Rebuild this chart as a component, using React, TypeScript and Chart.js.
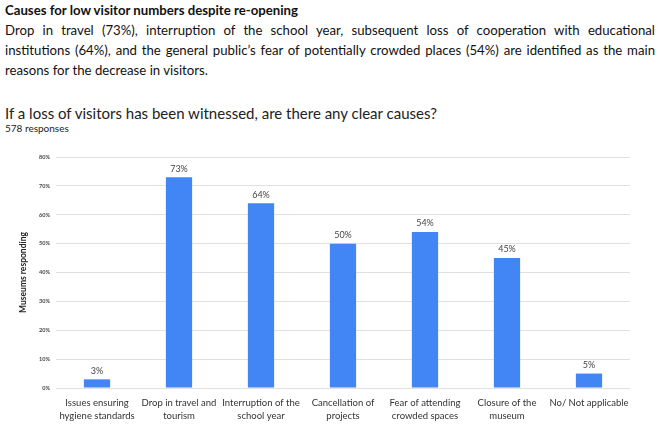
import React, { useEffect, useRef } from "react";
import { Chart, registerables } from "chart.js";

Chart.register(...registerables);

const categories: string[][] = [
  ["Issues ensuring", "hygiene standards"],
  ["Drop in travel and", "tourism"],
  ["Interruption of the", "school year"],
  ["Cancellation of", "projects"],
  ["Fear of attending", "crowded spaces"],
  ["Closure of the", "museum"],
  ["No/ Not applicable"],
];
const values: number[] = [3, 73, 64, 50, 54, 45, 5];
const yTicks: number[] = [0, 10, 20, 30, 40, 50, 60, 70, 80];

const FONT = "Lato, 'Open Sans', sans-serif";

const valueLabels = {
  id: "valueLabels",
  afterDatasetsDraw(chart: any) {
    const ctx = chart.ctx;
    const meta = chart.getDatasetMeta(0);
    ctx.save();
    ctx.font = `9px ${FONT}`;
    ctx.fillStyle = "#444";
    ctx.textAlign = "center";
    ctx.textBaseline = "bottom";
    meta.data.forEach((bar: any, i: number) => {
      ctx.fillText(values[i] + "%", bar.x, bar.y - 4);
    });
    ctx.restore();
  },
};

export default function App() {
  const ref = useRef<HTMLCanvasElement>(null);
  useEffect(() => {
    if (!ref.current) return;
    const chart = new Chart(ref.current, {
      type: "bar",
      data: {
        labels: categories,
        datasets: [
          {
            data: values,
            backgroundColor: "#4285F4",
            barPercentage: 0.32,
            categoryPercentage: 1,
          },
        ],
      },
      options: {
        animation: false,
        responsive: false,
        maintainAspectRatio: false,
        layout: { padding: { top: 17, right: 30, left: 18, bottom: 0 } },
        plugins: { legend: { display: false }, tooltip: { enabled: false } },
        scales: {
          x: {
            grid: { display: false },
            border: { display: false },
            ticks: {
              color: "#333",
              font: { family: FONT, size: 9.5, lineHeight: 1.35 },
              maxRotation: 0,
              autoSkip: false,
              padding: 1,
            },
            afterFit(scale: any) {
              scale.height = 40;
            },
          },
          y: {
            min: 0,
            max: 80,
            afterBuildTicks(scale: any) {
              scale.ticks = yTicks.map((v) => ({ value: v }));
            },
            grid: { color: "#e0e0e0", drawTicks: false },
            border: { display: false },
            ticks: {
              color: "#444",
              font: { family: FONT, size: 5.5, weight: "bold" },
              padding: 6,
              callback: (v: any) => v + "%",
            },
            title: {
              display: true,
              text: "Museums responding",
              color: "#222",
              font: { family: FONT, size: 8.5, weight: "bold" },
              padding: { top: 0, bottom: 8 },
            },
            afterFit(scale: any) {
              scale.width = 38;
            },
          },
        },
      },
      plugins: [valueLabels],
    });
    return () => chart.destroy();
  }, []);

  const para: React.CSSProperties = {
    position: "absolute",
    left: 5,
    width: 650,
    fontSize: 13.2,
    lineHeight: "20px",
    color: "#111",
    whiteSpace: "nowrap",
  };

  return (
    <div
      style={{
        position: "fixed",
        left: 0,
        top: 0,
        width: 660,
        height: 428,
        background: "#fff",
        fontFamily: FONT,
        overflow: "hidden",
      }}
    >
      <div style={{ ...para, top: 0, fontWeight: "bold", fontSize: 13.2 }}>
        Causes for low visitor numbers despite re-opening
      </div>
      <div style={{ ...para, top: 20, textAlign: "justify", textAlignLast: "justify", whiteSpace: "normal" }}>
        Drop in travel (73%), interruption of the school year, subsequent loss of cooperation with educational
      </div>
      <div style={{ ...para, top: 40, textAlign: "justify", textAlignLast: "justify", whiteSpace: "normal" }}>
        institutions (64%), and the general public’s fear of potentially crowded places (54%) are identified as the main
      </div>
      <div style={{ ...para, top: 60 }}>reasons for the decrease in visitors.</div>
      <div style={{ ...para, top: 103, fontSize: 15, color: "#222" }}>
        If a loss of visitors has been witnessed, are there any clear causes?
      </div>
      <div style={{ ...para, top: 121, fontSize: 10, lineHeight: "14px", color: "#222" }}>578 responses</div>
      <canvas
        ref={ref}
        width={660}
        height={288}
        style={{ position: "absolute", left: 0, top: 140, width: 660, height: 288 }}
      />
    </div>
  );
}
